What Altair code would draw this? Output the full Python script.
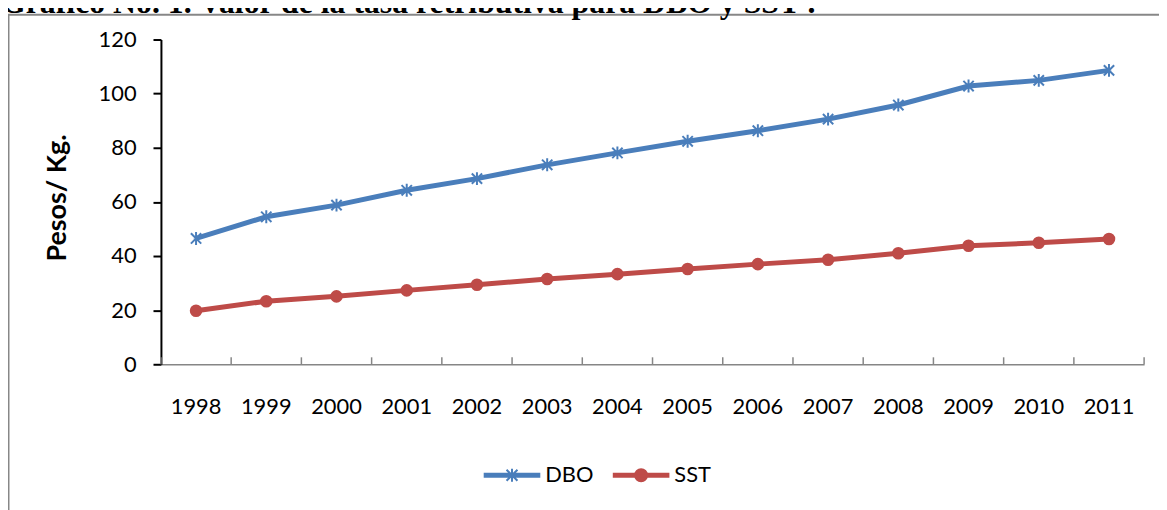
import altair as alt
import pandas as pd

# ---------------- data ----------------
title_text = "Gráfico No. 1. Valor de la tasa retributiva para DBO y SST ."
y_title = "Pesos/ Kg."
years = ["1998", "1999", "2000", "2001", "2002", "2003", "2004",
         "2005", "2006", "2007", "2008", "2009", "2010", "2011"]
dbo = [46.5, 54.5, 58.8, 64.3, 68.6, 73.7, 78.1, 82.4, 86.3, 90.6, 95.8, 102.8, 104.9, 108.6]
sst = [19.8, 23.3, 25.1, 27.3, 29.4, 31.5, 33.3, 35.2, 37.0, 38.6, 41.0, 43.8, 44.9, 46.3]
series_names = ["DBO", "SST"]
series_colors = ["#4A7EBB", "#BE4B48"]
y_ticks = [0, 20, 40, 60, 80, 100, 120]

df = pd.DataFrame({
    "year": years + years,
    "value": dbo + sst,
    "series": [series_names[0]] * len(years) + [series_names[1]] * len(years),
})
df_years = pd.DataFrame({"year": years})

# ---------------- layout ----------------
W, H = 990, 327
PAD_L, PAD_T = 154, 30
FONT = "Lato"
AXIS_GRAY = "#868686"

star_path = "M0,-1V1M-0.8,-0.8L0.8,0.8M-0.8,0.8L0.8,-0.8"
leg_star = ("M-1,-0.055H1V0.055H-1Z"
            "M0,-0.24V0.24M-0.2,-0.2L0.2,0.2M-0.2,0.2L0.2,-0.2")
leg_circle = ("M-1,-0.055H1V0.055H-1Z"
              "M0.22,0A0.22,0.22,0,1,1,-0.22,0A0.22,0.22,0,1,1,0.22,0Z")

x_scale = alt.Scale(type="band", paddingInner=0, paddingOuter=0, round=False)
x_axis = alt.Axis(
    title=None, labelAngle=0, labelFont=FONT, labelFontSize=22,
    labelColor="black", domainColor=AXIS_GRAY, domainWidth=1.5,
    ticks=False, labelPadding=33, grid=False,
)
x_enc = alt.X("year:O", sort=years, bandPosition=0.5, scale=x_scale, axis=x_axis)
y_enc = alt.Y(
    "value:Q",
    scale=alt.Scale(domain=[0, 120], nice=False),
    axis=alt.Axis(
        title=y_title, values=y_ticks, labelFont=FONT, labelFontSize=22,
        labelColor="black", domainColor="black", domainWidth=2,
        tickColor="black", tickWidth=2, tickSize=8, labelPadding=17,
        titleFont=FONT, titleFontSize=27, titleFontWeight="bold",
        titleColor="black", titlePadding=27, titleY=159, grid=False,
    ),
)

legend = alt.Legend(
    title=None, orient="none", legendX=325, legendY=410, direction="horizontal",
    labelFont=FONT, labelFontSize=22, labelColor="black", symbolSize=3025,
    labelOffset=5, columnPadding=16, padding=0,
    symbolStrokeWidth=2, symbolOpacity=1,
)

# inward tick marks between categories (band edges)
ticks_left = alt.Chart(df_years).mark_rule(color=AXIS_GRAY, strokeWidth=1.5).encode(
    x=alt.X("year:O", sort=years, bandPosition=0, scale=x_scale, axis=x_axis),
    y=alt.value(H - 7), y2=alt.value(H),
)
ticks_right = alt.Chart(df_years).transform_filter(
    alt.datum.year == years[-1]
).mark_rule(color=AXIS_GRAY, strokeWidth=1.5).encode(
    x=alt.X("year:O", sort=years, bandPosition=1, scale=x_scale, axis=x_axis),
    y=alt.value(H - 7), y2=alt.value(H),
)

base = alt.Chart(df)

lines = base.mark_line(strokeWidth=5).encode(
    x=x_enc, y=y_enc,
    color=alt.Color("series:N",
                    scale=alt.Scale(domain=series_names, range=series_colors),
                    legend=legend),
    shape=alt.Shape("series:N",
                    scale=alt.Scale(domain=series_names, range=[leg_star, leg_circle]),
                    legend=legend),
)

pts_dbo = base.transform_filter(alt.datum.series == series_names[0]).mark_point(
    shape=star_path, filled=False, strokeWidth=2, size=169,
    color=series_colors[0], opacity=1,
).encode(x=x_enc, y=y_enc)

pts_sst = base.transform_filter(alt.datum.series == series_names[1]).mark_circle(
    size=160, color=series_colors[1], opacity=1,
).encode(x=x_enc, y=y_enc)

# frame of the original figure (decoration)
frame_left = alt.Chart().mark_rule(color="#878787", strokeWidth=2).encode(
    x=alt.value(-153.5), y=alt.value(-25), y2=alt.value(H + 200))
frame_top = alt.Chart().mark_rule(color="#878787", strokeWidth=2).encode(
    x=alt.value(-155), x2=alt.value(W + 100), y=alt.value(-25))

title = alt.Chart().mark_text(
    text=title_text, font="Liberation Serif", fontWeight="bold", fontSize=32,
    align="left", baseline="alphabetic", color="black",
).encode(x=alt.value(-161), y=alt.value(-26.5))

chart = alt.layer(frame_left, frame_top, title, ticks_left, ticks_right,
                  lines, pts_dbo, pts_sst).properties(
    width=W, height=H,
    autosize=alt.AutoSizeParams(type="none"),
    padding={"left": PAD_L, "top": PAD_T, "right": 15, "bottom": 145},
    background="white",
).configure_view(stroke=None)

chart.save("out.html", embed_options={"renderer": "svg", "actions": False})
